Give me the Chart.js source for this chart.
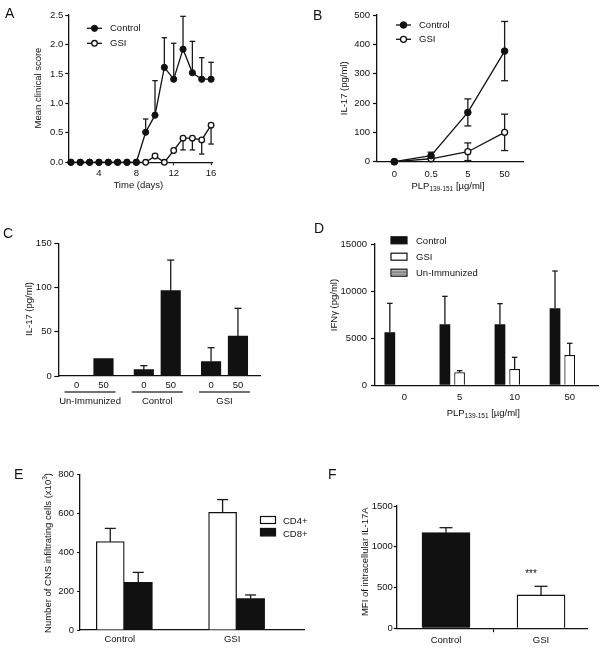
<!DOCTYPE html>
<html><head><meta charset="utf-8">
<script src="https://cdn.jsdelivr.net/npm/chart.js@4.4.0/dist/chart.umd.min.js"></script>
<style>
html,body{margin:0;padding:0;background:#fff;}
#wrap{position:relative;width:605px;height:650px;overflow:hidden;font-family:"Liberation Sans",Arial,sans-serif;background:#fff;}
#wrap canvas{position:absolute;left:0;top:0;}
.lbl{position:absolute;font-size:14px;line-height:1;color:#111;font-family:"Liberation Sans",Arial,sans-serif;}
</style></head><body>
<div id="wrap">
<canvas id="cA" width="605" height="650"></canvas>
<canvas id="cB" width="605" height="650"></canvas>
<canvas id="cC" width="605" height="650"></canvas>
<canvas id="cD" width="605" height="650"></canvas>
<canvas id="cE" width="605" height="650"></canvas>
<canvas id="cF" width="605" height="650"></canvas>
<div class="lbl" style="left:5px;top:6px">A</div>
<div class="lbl" style="left:313px;top:8px">B</div>
<div class="lbl" style="left:3px;top:226px">C</div>
<div class="lbl" style="left:314px;top:221px">D</div>
<div class="lbl" style="left:14px;top:467px">E</div>
<div class="lbl" style="left:328px;top:467px">F</div>
</div>
<script>
// ---------- DATA ----------
// Panel A: clinical score
const daysA = [1,2,3,4,5,6,7,8,9,10,11,12,13,14,15,16];
const aTicks = [4,8,12,16];
const aTickLabels = ['4','8','12','16'];
const controlScoreA = [0,0,0,0,0,0,0,0,0.51,0.80,1.61,1.41,1.92,1.52,1.41,1.41];
const controlSemA   = [0,0,0,0,0,0,0,0,0.225,0.586,0.505,0.61,0.557,0.533,0.366,0.287];
const gsiScoreA     = [0,0,0,0,0,0,0,0,0,0.107,0,0.2,0.41,0.41,0.38,0.63];
const gsiSemA       = [0,0,0,0,0,0,0,0,0,0,0,0,0.2,0.2,0.24,0.32];
// Panel B: IL-17 vs PLP dose
const bDoses = ['0','0.5','5','50'];
const controlIL17B = [0,20.5,168,377];
const controlSemB  = [0,12,46,101];
const gsiIL17B     = [0,10,34,100];
const gsiSemB      = [0,0,30,62];
// Panel C: IL-17 bars
const cGroups = ['Un-Immunized','Control','GSI'];
const cLabels = ['0','50','0','50','0','50'];
const cValues = [0,19.6,7.2,96.5,16.2,45.2];
const cSem    = [0,0,4.5,34.5,15.8,31.3];
// Panel D: IFNg
const dDoses = ['0','5','10','50'];
const dControl    = [5625,6473,6473,8170];
const dControlSem = [3075,2971,2193,3963];
const dGsi        = [null,1380,1733,3219];
const dGsiSem     = [0,176,1238,1238];
const dUnImm      = [null,null,null,null];
// Panel E: CNS infiltrating cells
const eGroups = ['Control','GSI'];
const eCD4    = [454,605];
const eCD4Sem = [68,65];
const eCD8    = [245,161];
const eCD8Sem = [51,19];
// Panel F: MFI IL-17A
const fGroups = ['Control','GSI'];
const fMFI    = [1173,409];
const fSem    = [61,106];

// ---------- HELPERS ----------
const FONT = '"Liberation Sans", Arial, Helvetica, sans-serif';
const INK = '#111';
const YW = 40;
Chart.defaults.font.family = FONT;
Chart.defaults.font.size = 9.5;
Chart.defaults.color = INK;

function pad(L,T,R,B){ return {left:L-YW, top:T, right:605-R, bottom:650-B-20}; }
const common = {responsive:false, animation:false, devicePixelRatio:1, events:[]};
const noPlug = {legend:{display:false}, tooltip:{enabled:false}};

function yAxis(max, step, tickLen, tpad, fmt){
  return {
    type:'linear', min:0, max:max,
    ticks:{stepSize:step, padding:tpad, autoSkip:false, color:INK, callback: fmt || (v=>String(v))},
    grid:{drawOnChartArea:false, drawTicks:true, tickLength:tickLen, tickColor:INK, tickWidth:1.2},
    border:{color:INK, width:1.3},
    afterFit: s => { s.width = YW; }
  };
}
function xAxis(min, max, vals, labels, tickLen, tpad, extra){
  const a = {
    type:'linear', min:min, max:max, offset:false,
    afterBuildTicks: s => { s.ticks = vals.map(v=>({value:v})); },
    ticks:{autoSkip:false, maxRotation:0, minRotation:0, padding:tpad, color:INK, callback:(v,i)=>labels[i]},
    grid:{offset:false, drawOnChartArea:false, drawTicks: tickLen>0, tickLength: tickLen, tickColor:INK, tickWidth:1.2},
    border:{color:INK, width:1.3},
    afterFit: s => { s.height = 20; }
  };
  if (extra) { if (extra.ticks) Object.assign(a.ticks, extra.ticks); if (extra.grid) Object.assign(a.grid, extra.grid); }
  return a;
}
const yOf = d => (d !== null && typeof d === 'object') ? d.y : d;

const errorBars = {
  id:'errorBars',
  beforeDatasetsDraw(chart, args, opts){
    const ctx = chart.ctx, ys = chart.scales.y;
    const cap = (opts && opts.cap) || 6;
    ctx.save();
    ctx.strokeStyle = '#1a1a1a'; ctx.lineWidth = 1.3; ctx.lineCap = 'butt';
    chart.data.datasets.forEach((ds, di) => {
      if (!ds.sem) return;
      const meta = chart.getDatasetMeta(di);
      meta.data.forEach((el, i) => {
        const v = yOf(ds.data[i]); const s = ds.sem[i];
        if (v === null || v === undefined || !s) return;
        const x = el.x, py = ys.getPixelForValue(v);
        const ends = [];
        if (ds.errDir !== 'down') ends.push(v + s);
        if (ds.errDir !== 'up') ends.push(Math.max(0, v - s));
        ends.forEach(e => {
          const pe = ys.getPixelForValue(e);
          ctx.beginPath(); ctx.moveTo(x, py); ctx.lineTo(x, pe); ctx.stroke();
          ctx.beginPath(); ctx.moveTo(x - cap/2, pe); ctx.lineTo(x + cap/2, pe); ctx.stroke();
        });
      });
    });
    ctx.restore();
  }
};

function txt(ctx, s, x, y, opt){
  opt = opt || {};
  ctx.save();
  ctx.font = (opt.size || 9.5) + 'px ' + FONT;
  ctx.fillStyle = INK; ctx.textAlign = opt.align || 'center'; ctx.textBaseline = 'middle';
  ctx.translate(x, y); if (opt.rot) ctx.rotate(opt.rot);
  ctx.fillText(s, 0, 0);
  ctx.restore();
}
function rich(ctx, segs, x, y, rot){
  ctx.save();
  ctx.translate(x, y); if (rot) ctx.rotate(rot);
  ctx.textBaseline = 'middle'; ctx.textAlign = 'left'; ctx.fillStyle = INK;
  const fonts = segs.map(s => (s.k ? 6.5 : 9.5) + 'px ' + FONT);
  let total = 0;
  const w = segs.map((s,i) => { ctx.font = fonts[i]; const m = ctx.measureText(s.t).width; total += m; return m; });
  let cx = -total/2;
  segs.forEach((s,i) => {
    ctx.font = fonts[i];
    const dy = s.k === 'sub' ? 3.5 : (s.k === 'sup' ? -3.5 : 0);
    ctx.fillText(s.t, cx, dy); cx += w[i];
  });
  ctx.restore();
}
function lineLegend(ctx, ds, x, y){
  ctx.save();
  ctx.strokeStyle = INK; ctx.lineWidth = 1.3;
  ctx.beginPath(); ctx.moveTo(x - 7.5, y); ctx.lineTo(x + 7.5, y); ctx.stroke();
  ctx.beginPath(); ctx.arc(x, y, ds.pointRadius, 0, Math.PI*2);
  ctx.fillStyle = ds.pointBackgroundColor; ctx.fill();
  ctx.lineWidth = ds.pointBorderWidth; ctx.strokeStyle = ds.pointBorderColor; ctx.stroke();
  ctx.restore();
  txt(ctx, ds.label, x + 15.5, y, {align:'left'});
}
function boxLegend(ctx, ds, x, y, w, h, striped){
  ctx.save();
  ctx.fillStyle = ds.backgroundColor; ctx.fillRect(x, y - h/2, w, h);
  ctx.strokeStyle = INK; ctx.lineWidth = 1.2; ctx.strokeRect(x, y - h/2, w, h);
  if (striped){
    ctx.strokeStyle = '#666'; ctx.lineWidth = 0.9;
    [-1.5, 0, 1.5].forEach(o => { ctx.beginPath(); ctx.moveTo(x+1, y+o); ctx.lineTo(x+w-1, y+o); ctx.stroke(); });
  }
  ctx.restore();
}

// ---------- PANEL A ----------
new Chart(document.getElementById('cA'), {
  type:'line',
  data:{datasets:[
    {label:'Control', data: daysA.map((d,i)=>({x:d, y:controlScoreA[i]})), sem:controlSemA, errDir:'up',
     borderColor:INK, borderWidth:1.3, pointRadius:3.1, pointBackgroundColor:INK, pointBorderColor:INK, pointBorderWidth:1, clip:false, tension:0},
    {label:'GSI', data: daysA.map((d,i)=>({x:d, y:gsiScoreA[i]})), sem:gsiSemA, errDir:'down',
     borderColor:INK, borderWidth:1.3, pointRadius:2.8, pointBackgroundColor:'#fff', pointBorderColor:INK, pointBorderWidth:1.3, clip:false, tension:0}
  ]},
  options:Object.assign({}, common, {
    layout:{padding:pad(68.3,15,212,162.3)},
    scales:{ x:xAxis(0.72,16.1,aTicks,aTickLabels,3,2.3), y:yAxis(2.5,0.5,3,2,v=>v.toFixed(1)) },
    plugins:Object.assign({}, noPlug, {errorBars:{cap:5.5}})
  }),
  plugins:[errorBars, {id:'decA', afterDraw(c){
    const ctx = c.ctx;
    lineLegend(ctx, c.data.datasets[0], 94.5, 28.3);
    lineLegend(ctx, c.data.datasets[1], 94.5, 43.3);
    txt(ctx, 'Mean clinical score', 38.3, 88, {rot:-Math.PI/2});
    txt(ctx, 'Time (days)', 138.3, 185);
  }}]
});

// ---------- PANEL B ----------
const bPos = bDoses.map((_,i)=>i);
new Chart(document.getElementById('cB'), {
  type:'line',
  data:{datasets:[
    {label:'Control', data: bPos.map((p,i)=>({x:p, y:controlIL17B[i]})), sem:controlSemB, errDir:'both',
     borderColor:INK, borderWidth:1.3, pointRadius:3.3, pointBackgroundColor:INK, pointBorderColor:INK, pointBorderWidth:1, clip:false, tension:0},
    {label:'GSI', data: bPos.map((p,i)=>({x:p, y:gsiIL17B[i]})), sem:gsiSemB, errDir:'both',
     borderColor:INK, borderWidth:1.3, pointRadius:3, pointBackgroundColor:'#fff', pointBorderColor:INK, pointBorderWidth:1.3, clip:false, tension:0}
  ]},
  options:Object.assign({}, common, {
    layout:{padding:pad(377,15,523,161.7)},
    scales:{ x:xAxis(-0.47,3.5,bPos,bDoses,0,6.5), y:yAxis(500,100,4,3) },
    plugins:Object.assign({}, noPlug, {errorBars:{cap:7}})
  }),
  plugins:[errorBars, {id:'decB', afterDraw(c){
    const ctx = c.ctx;
    lineLegend(ctx, c.data.datasets[0], 403.5, 25);
    lineLegend(ctx, c.data.datasets[1], 403.5, 39.3);
    txt(ctx, 'IL-17 (pg/ml)', 344.3, 88.3, {rot:-Math.PI/2});
    rich(ctx, [{t:'PLP'},{t:'139-151',k:'sub'},{t:' [µg/ml]'}], 448, 186);
  }}]
});

// ---------- PANEL C ----------
const cPos = cValues.map((_,i)=> Math.floor(i/2)*2.5 + (i%2));
new Chart(document.getElementById('cC'), {
  type:'bar',
  data:{datasets:[
    {label:'IL-17', data: cPos.map((p,i)=>({x:p, y:cValues[i]})), sem:cSem, errDir:'up',
     backgroundColor:INK, borderColor:INK, borderWidth:0, barThickness:19.5}
  ]},
  options:Object.assign({}, common, {
    layout:{padding:pad(58.3,243.3,260,376)},
    scales:{ x:xAxis(-0.68,6.82,cPos,cLabels,0,3.3), y:yAxis(150,50,4,2.6) },
    plugins:Object.assign({}, noPlug, {errorBars:{cap:7}})
  }),
  plugins:[errorBars, {id:'decC', afterDraw(c){
    const ctx = c.ctx, xs = c.scales.x;
    cGroups.forEach((g, gi) => {
      const cx = xs.getPixelForValue(gi*2.5 + 0.5);
      ctx.save(); ctx.strokeStyle = '#444'; ctx.lineWidth = 1.5;
      ctx.beginPath(); ctx.moveTo(cx - 25.5, 392); ctx.lineTo(cx + 25.5, 392); ctx.stroke(); ctx.restore();
      txt(ctx, g, cx, 401.5);
    });
    txt(ctx, 'IL-17 (pg/ml)', 29.3, 309, {rot:-Math.PI/2});
  }}]
});

// ---------- PANEL D ----------
const dPos = dDoses.map((_,i)=>i);
new Chart(document.getElementById('cD'), {
  type:'bar',
  data:{datasets:[
    {label:'Control', data: dPos.map((p,i)=>({x:p, y:dControl[i]})), sem:dControlSem, errDir:'up',
     backgroundColor:INK, borderColor:INK, borderWidth:0, categoryPercentage:0.8, barPercentage:0.73},
    {label:'GSI', data: dPos.map((p,i)=>({x:p, y:dGsi[i]})), sem:dGsiSem, errDir:'up',
     backgroundColor:'#fff', borderColor:INK, borderWidth:1.2, categoryPercentage:0.8, barPercentage:0.73},
    {label:'Un-Immunized', data: dPos.map((p,i)=>({x:p, y:dUnImm[i]})),
     backgroundColor:'#ddd', borderColor:INK, borderWidth:1.2, categoryPercentage:0.8, barPercentage:0.73}
  ]},
  options:Object.assign({}, common, {
    layout:{padding:pad(375,244,598,385.3)},
    scales:{ x:xAxis(-0.536,3.514,dPos,dDoses,0,6.7), y:yAxis(15000,5000,4,4) },
    plugins:Object.assign({}, noPlug, {errorBars:{cap:5.5}})
  }),
  plugins:[errorBars, {id:'decD', afterDraw(c){
    const ctx = c.ctx, ds = c.data.datasets;
    boxLegend(ctx, ds[0], 391, 240.3, 16, 7);
    boxLegend(ctx, ds[1], 391, 256.7, 16, 7);
    boxLegend(ctx, ds[2], 391, 272.7, 16, 7, true);
    txt(ctx, ds[0].label, 416, 241, {align:'left'});
    txt(ctx, ds[1].label, 416, 257.3, {align:'left'});
    txt(ctx, ds[2].label, 416, 273.3, {align:'left'});
    txt(ctx, 'IFNγ (pg/ml)', 334.8, 305, {rot:-Math.PI/2});
    rich(ctx, [{t:'PLP'},{t:'139-151',k:'sub'},{t:' [µg/ml]'}], 483.3, 413);
  }}]
});

// ---------- PANEL E ----------
const ePos = eGroups.map((_,i)=>i);
new Chart(document.getElementById('cE'), {
  type:'bar',
  data:{datasets:[
    {label:'CD4+', data: ePos.map((p,i)=>({x:p, y:eCD4[i]})), sem:eCD4Sem, errDir:'up',
     backgroundColor:'#fff', borderColor:INK, borderWidth:1.3, barThickness:28},
    {label:'CD8+', data: ePos.map((p,i)=>({x:p, y:eCD8[i]})), sem:eCD8Sem, errDir:'up',
     backgroundColor:INK, borderColor:INK, borderWidth:0, barThickness:28}
  ]},
  options:Object.assign({}, common, {
    layout:{padding:pad(80,474.3,304,630)},
    scales:{ x:xAxis(-0.394,1.6,ePos,eGroups,0,4,{ticks:{labelOffset:-4.5}}), y:yAxis(800,200,3,3) },
    plugins:Object.assign({}, noPlug, {errorBars:{cap:11}})
  }),
  plugins:[errorBars, {id:'decE', afterDraw(c){
    const ctx = c.ctx, ds = c.data.datasets;
    boxLegend(ctx, ds[0], 260.5, 520, 15, 7);
    boxLegend(ctx, ds[1], 260.5, 532.2, 15, 7.5);
    txt(ctx, ds[0].label, 283, 521.3, {align:'left'});
    txt(ctx, ds[1].label, 283, 534.5, {align:'left'});
    rich(ctx, [{t:'Number of CNS infiltrating cells (x10'},{t:'3',k:'sup'},{t:')'}], 48.3, 553, -Math.PI/2);
  }}]
});

// ---------- PANEL F ----------
const fPos = [0, 0.5, 1];
const fTickLabels = [fGroups[0], '', fGroups[1]];
new Chart(document.getElementById('cF'), {
  type:'bar',
  data:{datasets:[
    {label:'MFI', data: fGroups.map((g,i)=>({x:i, y:fMFI[i]})), sem:fSem, errDir:'up',
     backgroundColor:[INK,'#fff'], borderColor:INK, borderWidth:1.3, barThickness:48}
  ]},
  options:Object.assign({}, common, {
    layout:{padding:pad(396.7,506,587.3,628.3)},
    scales:{
      x:xAxis(-0.519,1.487,fPos,fTickLabels,4,2.3,{grid:{tickColor: ctx => (ctx.tick && ctx.tick.value === 0.5) ? INK : 'rgba(0,0,0,0)'}}),
      y:yAxis(1500,500,3,0.8)
    },
    plugins:Object.assign({}, noPlug, {errorBars:{cap:13}})
  }),
  plugins:[errorBars, {id:'decF', afterDraw(c){
    const ctx = c.ctx, ys = c.scales.y, el = c.getDatasetMeta(0).data[1];
    txt(ctx, '***', el.x - 10, ys.getPixelForValue(fMFI[1] + fSem[1]) - 12, {size:10});
    txt(ctx, 'MFI of intracellular IL-17A', 365, 561.7, {rot:-Math.PI/2});
  }}]
});
</script>
</body></html>
